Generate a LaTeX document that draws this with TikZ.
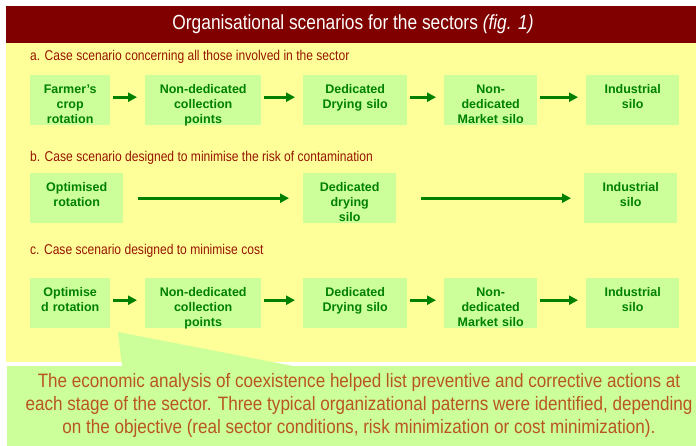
\documentclass[tikz,border=0pt]{standalone}
\usepackage{fontspec}
\setmainfont{Liberation Sans}
\newfontfamily\narrow[FakeStretch=0.85]{Liberation Sans}
\newfontfamily\notefont[FakeStretch=0.88]{Liberation Sans}
\usepackage{tikz}
\usetikzlibrary{arrows.meta}
\definecolor{titlered}{RGB}{128,0,0}
\definecolor{paleyellow}{RGB}{255,255,153}
\definecolor{boxgreen}{RGB}{204,255,153}
\definecolor{textgreen}{RGB}{0,128,0}
\definecolor{labelred}{RGB}{150,20,0}
\definecolor{notebrown}{RGB}{185,85,30}
\tikzset{bx/.style={fill=boxgreen, text=textgreen, inner sep=0pt, align=center, anchor=north west, text height=18.5pt, text depth=31.5pt, font=\fontsize{12.5}{14.7}\selectfont\bfseries}}
\tikzset{lb/.style={anchor=west, inner sep=0pt, text=labelred, font=\narrow\fontsize{14.2}{17}\selectfont}}
\tikzset{ar/.style={<-, >={Triangle[length=9pt,width=9pt]}, draw=textgreen, line width=3pt, shorten <=8pt, shorten >=3pt}}
\tikzset{up/.style={transform canvas={yshift=3pt}}}

\begin{document}
\begin{tikzpicture}[x=1pt,y=-1pt]
          \useasboundingbox (0,0) rectangle (696,446);
          \fill[titlered] (6,6) rectangle (696,43);
          \fill[paleyellow] (6,43) rectangle (696,362);
          \fill[boxgreen] (7,366) rectangle (696,446);
          \fill[boxgreen] (118,332) -- (122,366) -- (293,366) -- cycle;
          \node (title) at (353,24) [text=white, font=\narrow\fontsize{20.4}{24}\selectfont] {Organisational scenarios for the sectors \textit{(fig. 1)}};
          \node[lb] (la) at (30,57) {a. Case scenario concerning all those involved in the sector};
          \node[lb] (lb) at (30,158) {b. Case scenario designed to minimise the risk of contamination};
          \node[lb] (lc) at (30,251) {c. Case scenario designed to minimise cost};
          \node[bx, text width=80pt] (a1) at (30,75) {Farmer's\\crop\\rotation};
          \node[bx, text width=116pt] (a2) at (145,75) {Non-dedicated\\collection\\points}
            edge [ar, up] (a1);
          \node[bx, text width=104pt] (a3) at (303,75) {Dedicated\\Drying silo}
            edge [ar, up] (a2);
          \node[bx, text width=93pt] (a4) at (444,75) {Non-\\dedicated\\Market silo}
            edge [ar, up] (a3);
          \node[bx, text width=93pt] (a5) at (586,75) {Industrial\\silo}
            edge [ar, up] (a4);
          \node[bx, text width=93pt] (b1) at (30,173) {Optimised\\rotation};
          \node[bx, text width=93pt] (b2) at (303,173) {Dedicated\\drying\\silo}
            edge [ar, shorten <=14pt, shorten >=15pt] (b1);
          \node[bx, text width=93pt] (b3) at (584,173) {Industrial\\silo}
            edge [ar, shorten <=13pt, shorten >=25pt] (b2);
          \node[bx, text width=80pt] (c1) at (30,278) {Optimise\\d rotation};
          \node[bx, text width=116pt] (c2) at (145,278) {Non-dedicated\\collection\\points}
            edge [ar, up] (c1);
          \node[bx, text width=104pt] (c3) at (303,278) {Dedicated\\Drying silo}
            edge [ar, up] (c2);
          \node[bx, text width=93pt] (c4) at (444,278) {Non-\\dedicated\\Market silo}
            edge [ar, up] (c3);
          \node[bx, text width=93pt] (c5) at (586,278) {Industrial\\silo}
            edge [ar, up] (c4);
          \node (note) at (359,405) [align=center, text=notebrown, font=\notefont\fontsize{19.4}{23}\selectfont] {The economic analysis of coexistence helped list preventive and corrective actions at\\each stage of the sector. Three typical organizational paterns were identified, depending\\on the objective (real sector conditions, risk minimization or cost minimization).};
        \end{tikzpicture}
\end{document}
